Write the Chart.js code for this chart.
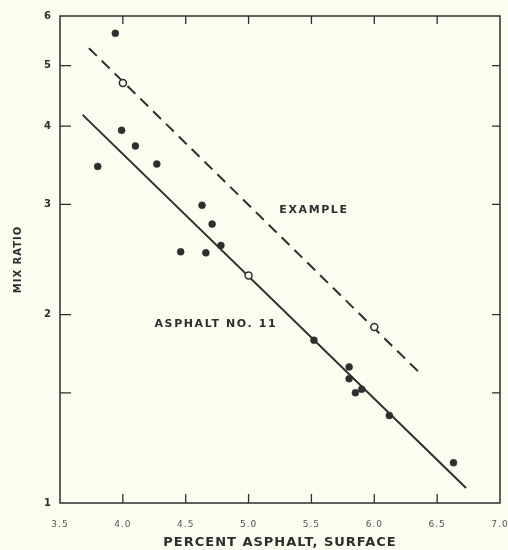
<!DOCTYPE html>
<html>
<head>
<meta charset="utf-8">
<script src="https://cdn.jsdelivr.net/npm/chart.js@4/dist/chart.umd.min.js"></script>
<style>
  html, body { margin: 0; padding: 0; background: #fcfcef; }
  #wrap { width: 508px; height: 550px; }
</style>
</head>
<body>
<div id="wrap"><canvas id="chart"></canvas></div>
<script>
// measured points, asphalt no. 11 (percent asphalt, mix ratio)
const asphaltX = [3.94, 3.80, 3.99, 4.10, 4.27, 4.63, 4.71, 4.78, 4.46, 4.66, 5.52, 5.80, 5.80, 5.90, 5.85, 6.12, 6.63]
const asphaltY = [5.63, 3.45, 3.94, 3.72, 3.48, 2.99, 2.79, 2.58, 2.52, 2.51, 1.82, 1.65, 1.58, 1.52, 1.50, 1.38, 1.16]

// example points (open circles)
const exampleX = [4.0, 5.0, 6.0]
const exampleY = [4.69, 2.31, 1.91]

// fitted lines, end points
const solidX = [3.68, 6.73]
const solidY = [4.17, 1.057]
const dashedX = [3.73, 6.38]
const dashedY = [5.33, 1.60]

const xTicks = [3.5, 4.0, 4.5, 5.0, 5.5, 6.0, 6.5, 7.0]
const yTicks = [1, 1.5, 2, 3, 4, 5, 6]

const notes = [
  { text: "EXAMPLE", x: 5.52, y: 2.94 },
  { text: "ASPHALT NO. 11", x: 4.74, y: 1.93 },
]

const INK = "#2e2e2e"
const FONT = "'DejaVu Sans', sans-serif"

const pts = (xs, ys) => xs.map((x, i) => ({ x, y: ys[i] }))

// frame, inward tick marks, in-plot labels
const framePlugin = {
  id: "frame",
  beforeDraw(chart) {
    chart.ctx.letterSpacing = "1px"
  },
  afterDraw(chart) {
    const { ctx, chartArea: a, scales } = chart
    ctx.save()
    ctx.strokeStyle = INK
    ctx.lineWidth = 1.5
    ctx.strokeRect(a.left, a.top, a.right - a.left, a.bottom - a.top)
    ctx.lineWidth = 1.3
    ctx.beginPath()
    xTicks.slice(1, -1).forEach(v => {
      const px = scales.x.getPixelForValue(v)
      ctx.moveTo(px, a.bottom); ctx.lineTo(px, a.bottom - 9)
      ctx.moveTo(px, a.top); ctx.lineTo(px, a.top + 8)
    })
    yTicks.slice(1, -1).forEach(v => {
      const py = scales.y.getPixelForValue(v)
      ctx.moveTo(a.left, py); ctx.lineTo(a.left + 11, py)
      ctx.moveTo(a.right, py); ctx.lineTo(a.right - 8, py)
    })
    ctx.stroke()

    ctx.fillStyle = INK
    ctx.font = "bold 11px " + FONT
    ctx.letterSpacing = "1.6px"
    ctx.textAlign = "center"
    ctx.textBaseline = "middle"
    notes.forEach(n => {
      ctx.fillText(n.text, scales.x.getPixelForValue(n.x), scales.y.getPixelForValue(n.y))
    })
    ctx.restore()
  },
}

new Chart(document.getElementById("chart"), {
  type: "scatter",
  data: {
    datasets: [
      {
        label: "Asphalt No. 11",
        data: pts(asphaltX, asphaltY),
        pointRadius: 3.5,
        backgroundColor: INK,
        borderColor: INK,
        borderWidth: 0.5,
      },
      {
        label: "Example",
        data: pts(exampleX, exampleY),
        pointRadius: 3.5,
        backgroundColor: "#fcfcef",
        borderColor: INK,
        borderWidth: 1.5,
      },
      {
        type: "line",
        label: "fit",
        data: pts(solidX, solidY),
        borderColor: INK,
        borderWidth: 2,
        pointRadius: 0,
        fill: false,
      },
      {
        type: "line",
        label: "example fit",
        data: pts(dashedX, dashedY),
        borderColor: INK,
        borderWidth: 2,
        borderDash: [11, 7],
        pointRadius: 0,
        fill: false,
      },
    ],
  },
  options: {
    responsive: true,
    maintainAspectRatio: false,
    animation: false,
    layout: { padding: { top: 16, right: 8, left: 0, bottom: 0 } },
    plugins: {
      legend: { display: false },
      tooltip: { enabled: false },
    },
    scales: {
      x: {
        type: "linear",
        min: 3.5,
        max: 7.0,
        afterBuildTicks: s => { s.ticks = xTicks.map(v => ({ value: v })) },
        afterFit: s => {
          s.height = 47
          s.paddingLeft = 0
          s.paddingRight = 0
        },
        grid: { display: false },
        border: { display: false },
        ticks: {
          color: "#555",
          font: { family: FONT, size: 9 },
          padding: 8,
          maxRotation: 0,
          autoSkip: false,
          callback: v => v.toFixed(1),
        },
        title: {
          display: true,
          text: "PERCENT ASPHALT, SURFACE",
          color: INK,
          font: { family: FONT, size: 13, weight: "bold" },
          padding: { top: 7, bottom: 0 },
        },
      },
      y: {
        type: "logarithmic",
        min: 1,
        max: 6,
        afterBuildTicks: s => { s.ticks = yTicks.map(v => ({ value: v })) },
        afterFit: s => { s.width = 60 },
        grid: { display: false },
        border: { display: false },
        ticks: {
          color: INK,
          font: { family: FONT, size: 10, weight: "bold" },
          padding: 0,
          autoSkip: false,
          callback: v => (v === 1.5 ? "" : String(v)),
        },
        title: {
          display: true,
          text: "MIX RATIO",
          color: INK,
          font: { family: FONT, size: 10, weight: "bold" },
          padding: { top: 12, bottom: 0 },
        },
      },
    },
  },
  plugins: [framePlugin],
})
</script>
</body>
</html>
